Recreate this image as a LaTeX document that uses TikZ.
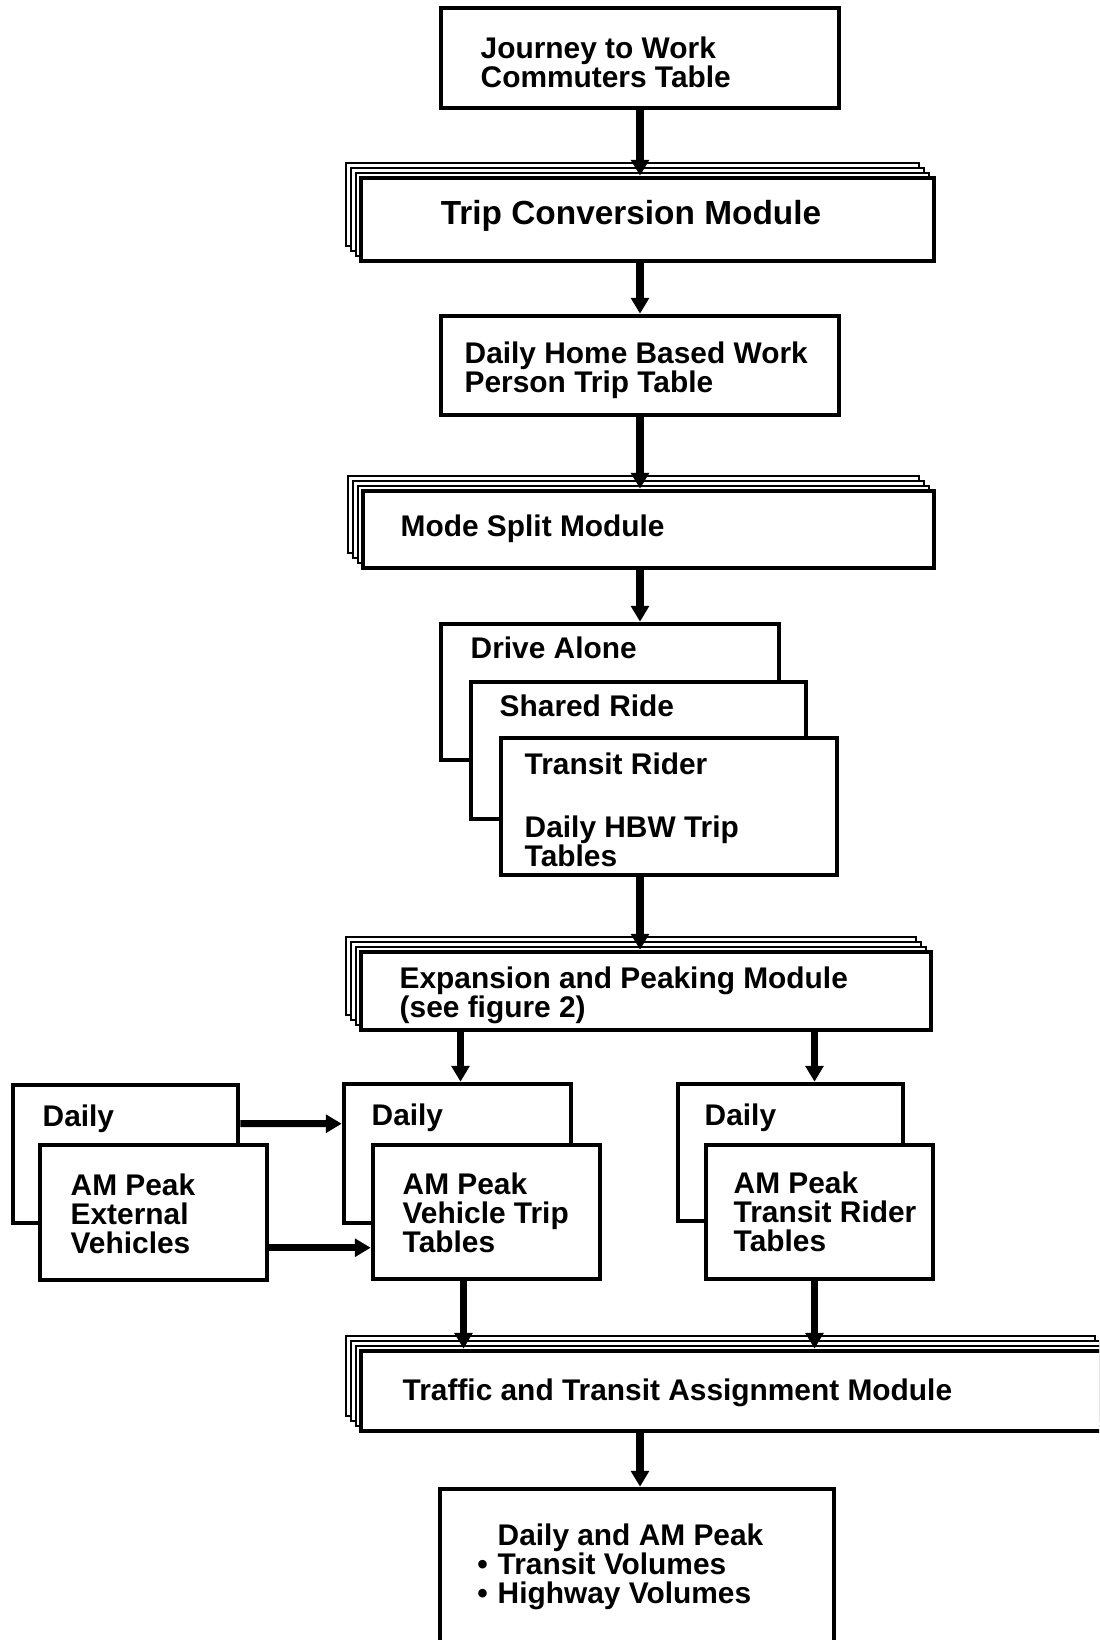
\documentclass[tikz,border=0pt]{standalone}
\usepackage{fontspec}
\setmainfont{Liberation Sans}
\usetikzlibrary{arrows.meta,calc}
\tikzset{
	box/.style={draw, line width=1.3pt, fill=white, inner sep=0pt},
	sheet/.style={draw, line width=0.6pt, fill=white},
	txt/.style={anchor=west, align=left, inner sep=0pt, font=\bfseries\fontsize{8.5}{8.3}\selectfont},
	flow/.style={line width=2pt, -{Triangle[length=4.5pt,width=5pt]}},
}
\begin{document}
\begin{tikzpicture}
		\useasboundingbox (0,0) rectangle (10.99,-16.40);
		\clip (0,0) rectangle (10.99,-16.40);
		% top table
		\node[box, minimum width=3.98cm, minimum height=1.00cm] (journey) at (6.40,-0.58) {};
		\node[txt] (journeytxt) at (4.80,-0.625) {Journey to Work\\Commuters Table};
		% trip conversion
		\draw[sheet] (3.46,-1.63) rectangle (9.19,-2.46);
		\draw[sheet] (3.51,-1.68) rectangle (9.24,-2.51);
		\draw[sheet] (3.56,-1.73) rectangle (9.29,-2.56);
		\node[box, minimum width=5.73cm, minimum height=0.83cm] (trip) at (6.475,-2.195) {};
		\node[txt, anchor=center, font=\bfseries\fontsize{9.5}{9}\selectfont] (triptxt) at (6.31,-2.16) {Trip Conversion Module};
		\node[box, minimum width=3.98cm, minimum height=0.99cm] (hbw) at (6.40,-3.655) {};
		\node[txt] (hbwtxt) at (4.64,-3.705) {Daily Home Based Work\\Person Trip Table};
		% mode split
		\draw[sheet] (3.48,-4.76) rectangle (9.19,-5.53);
		\draw[sheet] (3.53,-4.81) rectangle (9.24,-5.58);
		\draw[sheet] (3.58,-4.86) rectangle (9.29,-5.63);
		\node[box, minimum width=5.71cm, minimum height=0.77cm] (mode) at (6.485,-5.295) {};
		\node[txt] (modetxt) at (4.00,-5.29) {Mode Split Module};
		% trip tables
		\node[box, minimum width=3.38cm, minimum height=1.36cm] (drive) at (6.10,-6.92) {};
		\node[txt] (drivetxt) at (4.70,-6.48) {Drive Alone};
		\node[box, minimum width=3.35cm, minimum height=1.37cm] (shared) at (6.385,-7.505) {};
		\node[txt] (sharedtxt) at (4.99,-7.06) {Shared Ride};
		\node[box, minimum width=3.36cm, minimum height=1.37cm] (transit) at (6.69,-8.065) {};
		\node[txt] (transittxt) at (5.24,-7.64) {Transit Rider};
		\node[txt] (hbwtabtxt) at (5.24,-8.415) {Daily HBW Trip\\Tables};
		% expansion and peaking
		\draw[sheet] (3.46,-9.37) rectangle (9.16,-10.15);
		\draw[sheet] (3.51,-9.42) rectangle (9.21,-10.20);
		\draw[sheet] (3.56,-9.47) rectangle (9.26,-10.25);
		\node[box, minimum width=5.70cm, minimum height=0.78cm] (expand) at (6.46,-9.91) {};
		\node[txt] (expandtxt) at (3.99,-9.955) {Expansion and Peaking Module\\(see figure 2)};
		% external vehicles
		\node[box, minimum width=2.25cm, minimum height=1.38cm] (leftdaily) at (1.255,-11.54) {};
		\node[txt] (leftdailytxt) at (0.42,-11.19) {Daily};
		\node[box, minimum width=2.27cm, minimum height=1.35cm] (leftam) at (1.535,-12.125) {};
		\node[txt] (leftamtxt) at (0.70,-12.14) {AM Peak\\External\\Vehicles};
		% vehicle trip tables
		\node[box, minimum width=2.27cm, minimum height=1.39cm] (middaily) at (4.575,-11.535) {};
		\node[txt] (middailytxt) at (3.71,-11.18) {Daily};
		\node[box, minimum width=2.27cm, minimum height=1.34cm] (midam) at (4.865,-12.12) {};
		\node[txt] (midamtxt) at (4.02,-12.13) {AM Peak\\Vehicle Trip\\Tables};
		% transit rider tables
		\node[box, minimum width=2.25cm, minimum height=1.37cm] (rightdaily) at (7.905,-11.525) {};
		\node[txt] (rightdailytxt) at (7.04,-11.18) {Daily};
		\node[box, minimum width=2.27cm, minimum height=1.34cm] (rightam) at (8.195,-12.12) {};
		\node[txt] (rightamtxt) at (7.33,-12.12) {AM Peak\\Transit Rider\\Tables};
		% assignment
		\draw[sheet] (3.46,-13.36) rectangle (10.95,-14.16);
		\draw[sheet] (3.51,-13.41) rectangle (11.00,-14.21);
		\draw[sheet] (3.56,-13.46) rectangle (11.05,-14.26);
		\node[box, minimum width=7.49cm, minimum height=0.80cm] (traffic) at (7.355,-13.91) {};
		\node[txt] (traffictxt) at (4.02,-13.93) {Traffic and Transit Assignment Module};
		\node[box, minimum width=3.94cm, minimum height=1.71cm] (final) at (6.37,-15.745) {};
		\node[txt] (finaltxt) at (4.97,-15.67) {Daily and AM Peak\\\llap{\textbullet\,\,}Transit Volumes\\\llap{\textbullet\,\,}Highway Volumes};
		% connectors
		\draw[flow] (journey.south) -- (journey.south |- trip.north);
		\draw[flow] (hbw.north |- trip.south) -- (hbw.north);
		\draw[flow] (hbw.south) -- (hbw.south |- mode.north);
		\draw[flow] (hbw.south |- mode.south) -- (hbw.south |- drive.north);
		\draw[flow] (hbw.south |- transit.south) -- (hbw.south |- expand.north);
		\draw[flow] ([xshift=0.03cm]middaily.north |- expand.south) -- ([xshift=0.03cm]middaily.north);
		\draw[flow] ([xshift=-0.05cm]rightam.north |- expand.south) -- ([xshift=-0.05cm]rightam.north |- rightdaily.north);
		\draw[flow] ([yshift=-0.41cm]leftdaily.north east) -- ([yshift=-0.42cm]middaily.north west);
		\draw[flow] ([yshift=-1.05cm]leftam.north east) -- ([yshift=-1.05cm]midam.north west);
		\draw[flow] ([xshift=0.06cm]middaily.north |- midam.south) -- ([xshift=0.06cm]middaily.north |- traffic.north);
		\draw[flow] ([xshift=-0.05cm]rightam.south) -- ([xshift=-0.05cm]rightam.south |- traffic.north);
		\draw[flow] (hbw.south |- traffic.south) -- (hbw.south |- final.north);
	\end{tikzpicture}
\end{document}
